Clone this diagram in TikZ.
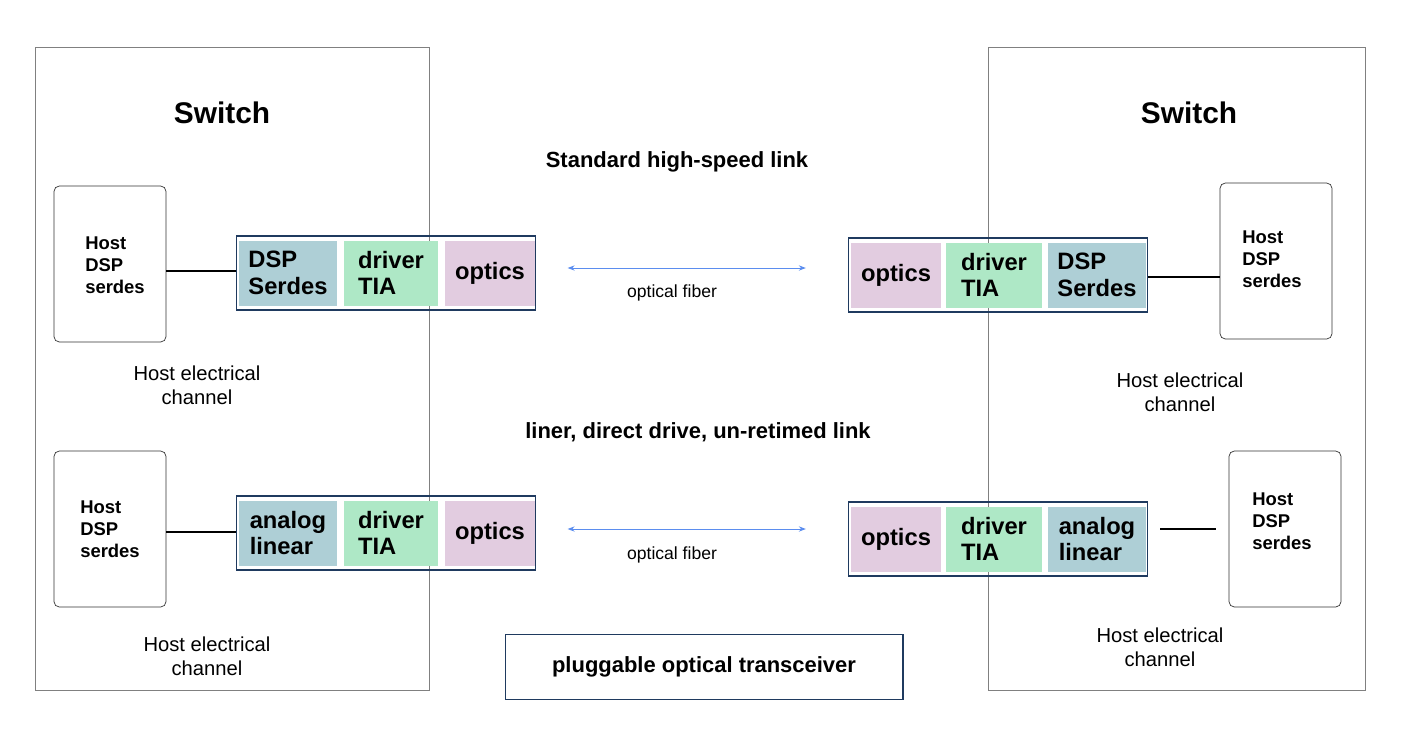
\documentclass[tikz,border=0pt]{standalone}
\usepackage{fontspec}
\setmainfont{Liberation Sans}
\usetikzlibrary{arrows.meta}
\definecolor{dspblue}{HTML}{AECFD6}
\definecolor{drvgreen}{HTML}{AEE8C6}
\definecolor{optpink}{HTML}{E2CCE0}
\definecolor{modframe}{HTML}{1F3A5F}
\definecolor{fiberblue}{HTML}{5B8DEF}
\begin{document}
\begin{tikzpicture}[x=0.02cm,y=-0.02cm,
    frame/.style={draw=gray,line width=0.5pt},
    host/.style={draw=black!80,rounded corners=3pt,minimum width=2.24cm,minimum height=3.12cm,inner sep=0pt},
    hosttxt/.style={font=\bfseries\fontsize{10.5}{12.5}\selectfont,align=left},
    cell/.style={minimum width=#1,minimum height=1.3cm,inner sep=0pt,font=\bfseries\fontsize{13.5}{15}\selectfont,align=left},
    module/.style={draw=modframe,line width=0.6pt,minimum width=5.98cm,minimum height=1.48cm,inner sep=0pt},
    note/.style={font=\fontsize{11.5}{13.5}\selectfont,align=center},
    fiber/.style={{Stealth[length=4pt]}-{Stealth[length=4pt]},fiberblue,line width=0.5pt},
    wire/.style={line width=1.5pt}]
    \useasboundingbox (0,0) rectangle (1406,748);
    % switches
    \draw[frame] (35,47) rectangle (429,690);
    \draw[frame] (988,47) rectangle (1365,690);
    \node[font=\bfseries\fontsize{17}{20}\selectfont] (swl) at (222,113) {Switch};
    \node[font=\bfseries\fontsize{17}{20}\selectfont] (swr) at (1189,113) {Switch};
    % hosts
    \node[host] (hlt) at (110,264) {};
    \node[hosttxt] at (115,265) {Host\\DSP\\ serdes};
    \node[host] (hlb) at (110,529) {};
    \node[hosttxt] at (110,529) {Host\\DSP\\ serdes};
    \node[host] (hrt) at (1276,261) {};
    \node[hosttxt] at (1272,259) {Host\\ DSP\\ serdes};
    \node[host] (hrb) at (1285,529) {};
    \node[hosttxt] at (1282,521) {Host\\ DSP\\ serdes};
    % modules
    \node[module] (mlt) at (386,273) {};
    \node[cell=1.98cm,fill=dspblue] at (288,273) {DSP\\Serdes};
    \node[cell=1.9cm,fill=drvgreen] at (391,273) {driver\\ TIA};
    \node[cell=1.82cm,fill=optpink] at (490,273) {optics};
    \node[module] (mrt) at (998,275) {};
    \node[cell=1.8cm,fill=optpink] at (896,275) {optics};
    \node[cell=1.92cm,fill=drvgreen] at (994,275) {driver\\ TIA};
    \node[cell=1.96cm,fill=dspblue] at (1097,275) {DSP\\Serdes};
    \node[module] (mlb) at (386,533) {};
    \node[cell=1.98cm,fill=dspblue] at (288,533) {analog\\linear};
    \node[cell=1.9cm,fill=drvgreen] at (391,533) {driver\\ TIA};
    \node[cell=1.82cm,fill=optpink] at (490,533) {optics};
    \node[module] (mrb) at (998,539) {};
    \node[cell=1.8cm,fill=optpink] at (896,539) {optics};
    \node[cell=1.92cm,fill=drvgreen] at (994,539) {driver\\ TIA};
    \node[cell=1.96cm,fill=dspblue] at (1097,539) {analog\\ linear};
    % wires
    \draw[wire] (hlt.east |- 0,271) -- (mlt.west |- 0,271);
    \draw[wire] (hlb.east |- 0,532) -- (mlb.west |- 0,532);
    \draw[wire] (mrt.east |- 0,277) -- (hrt.west |- 0,277);
    \draw[wire,shorten <=7pt,shorten >=7pt] (mrb.east |- 0,529) -- (hrb.west |- 0,529);
    % fibers
    \draw[fiber,shorten <=18pt,shorten >=24pt] (mlt.east |- 0,268) -- (mrt.west |- 0,268);
    \draw[fiber,shorten <=18pt,shorten >=24pt] (mlb.east |- 0,529) -- (mrb.west |- 0,529);
    \node[note,font=\fontsize{10}{12}\selectfont] (f1) at (672,293) {optical fiber};
    \node[note,font=\fontsize{10}{12}\selectfont] (f2) at (672,555) {optical fiber};
    % labels
    \node[font=\bfseries\fontsize{12.5}{15}\selectfont] (std) at (677,162) {Standard high-speed link};
    \node[font=\bfseries\fontsize{12.5}{15}\selectfont] (lin) at (698,432) {liner, direct drive, un-retimed link};
    \node[note] at (197,385) {Host electrical\\channel};
    \node[note] at (1180,392) {Host electrical\\channel};
    \node[note] at (207,656) {Host electrical\\channel};
    \node[note] at (1160,647) {Host electrical\\channel};
    \node[draw=modframe,line width=0.6pt,minimum width=7.96cm,minimum height=1.3cm,
      font=\bfseries\fontsize{12.5}{15}\selectfont] (leg) at (704,667) {pluggable optical transceiver};
\end{tikzpicture}
\end{document}
